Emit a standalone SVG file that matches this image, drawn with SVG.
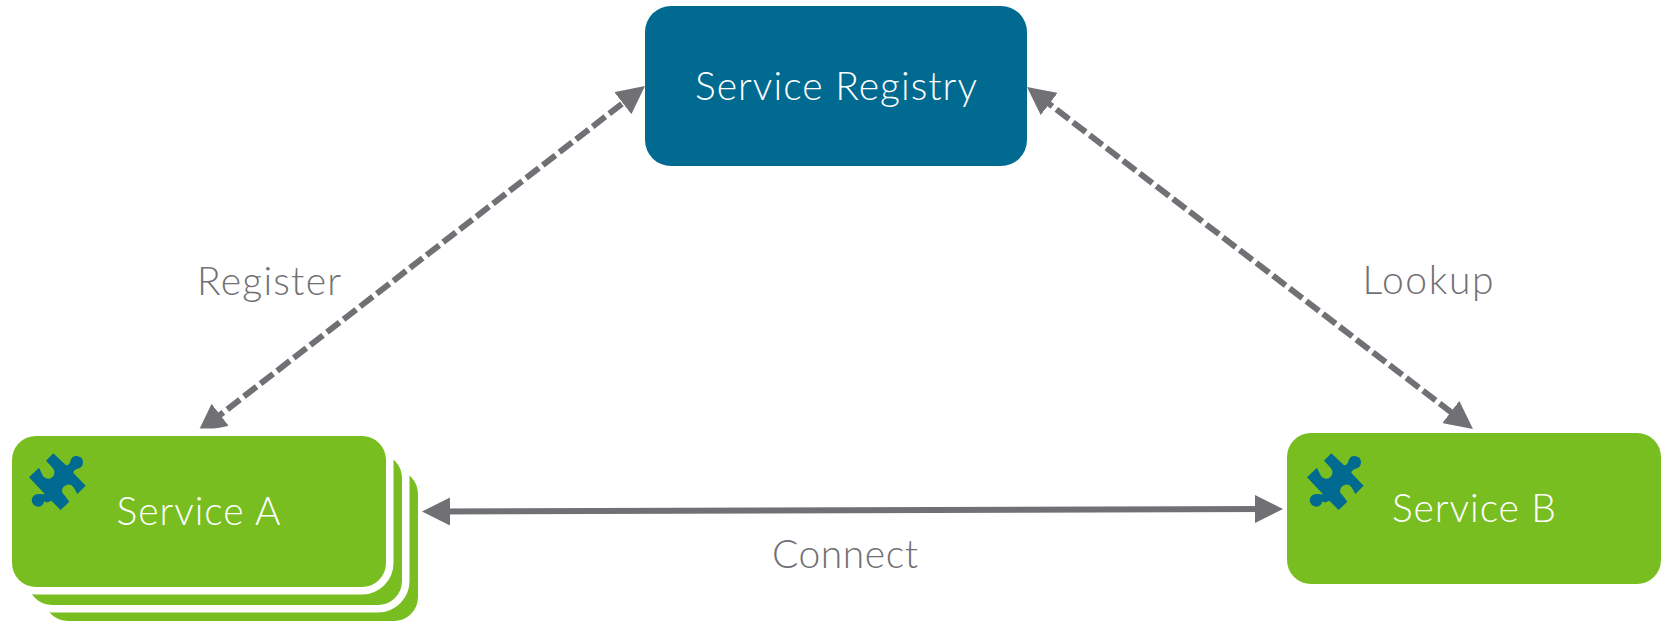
<svg xmlns="http://www.w3.org/2000/svg" width="1661" height="621" viewBox="0 0 1661 621">
<style>
.t{font-family:"Lato","Open Sans","Liberation Sans",sans-serif;font-weight:300;font-size:39px}
.w{fill:#fff}.g{fill:#717074}
.gr{fill:#78be20}
.s{stroke:#fff;stroke-width:15;paint-order:stroke}
.l{stroke:#717074;stroke-width:6;fill:none}
.d{stroke-dasharray:16 5}
</style>
<defs>
<marker id="a" viewBox="0 0 28 28" refX="12" refY="14" markerUnits="userSpaceOnUse" markerWidth="28" markerHeight="28" orient="auto-start-reverse"><path d="M0 0L28 14L0 28z" fill="#717074"/></marker>
<path id="p" transform="translate(20 445) scale(.3333)" fill="#006a91" d="M100 25L138 61C145 62 150 56 152 46A19 19 0 1 1 172 71C165 73 160 78 160 84L197 122L172 147C168 140 164 131 160 126A19 19 0 0 0 127 143C134 150 140 160 148 170L122 195L94 167C86 170 80 176 73 169A19 19 0 1 1 55 147C63 147 70 148 75 148L27 97L57 68C60 75 65 84 69 93A19 19 0 0 0 100 71C95 64 85 55 78 47Z"/>
</defs>
<g id="connectors">
<path class="l d" d="M210.700 422.200L632.300 95.800" marker-start="url(#a)" marker-end="url(#a)"/>
<path class="l d" d="M1039.700 96.700L1460.300 419.300" marker-start="url(#a)" marker-end="url(#a)"/>
<path class="l" d="M438 511.500L1267 509" marker-start="url(#a)" marker-end="url(#a)"/>
</g>
<g id="registry"><rect x="645" y="6" width="382" height="160" rx="26" fill="#006a91"/><text class="t w" x="836" y="100" text-anchor="middle" textLength="282">Service Registry</text></g>
<g id="service-a">
<rect class="gr" x="44" y="470" width="374" height="151" rx="24"/>
<rect class="gr s" x="28" y="454" width="374" height="151" rx="24"/>
<rect class="gr s" x="12" y="436" width="374" height="151" rx="24"/>
<use href="#p"/>
<text class="t w" x="198.500" y="525" text-anchor="middle" textLength="164">Service A</text>
</g>
<g id="service-b"><rect class="gr" x="1287" y="433" width="374" height="151" rx="24"/><use href="#p" x="1278" y="0"/><text class="t w" x="1474" y="522" text-anchor="middle" textLength="164">Service B</text></g>
<text class="t g" x="269" y="295" text-anchor="middle" textLength="144">Register</text>
<text class="t g" x="1428" y="294" text-anchor="middle" textLength="131">Lookup</text>
<text class="t g" x="845" y="568" text-anchor="middle" textLength="146">Connect</text>
</svg>
